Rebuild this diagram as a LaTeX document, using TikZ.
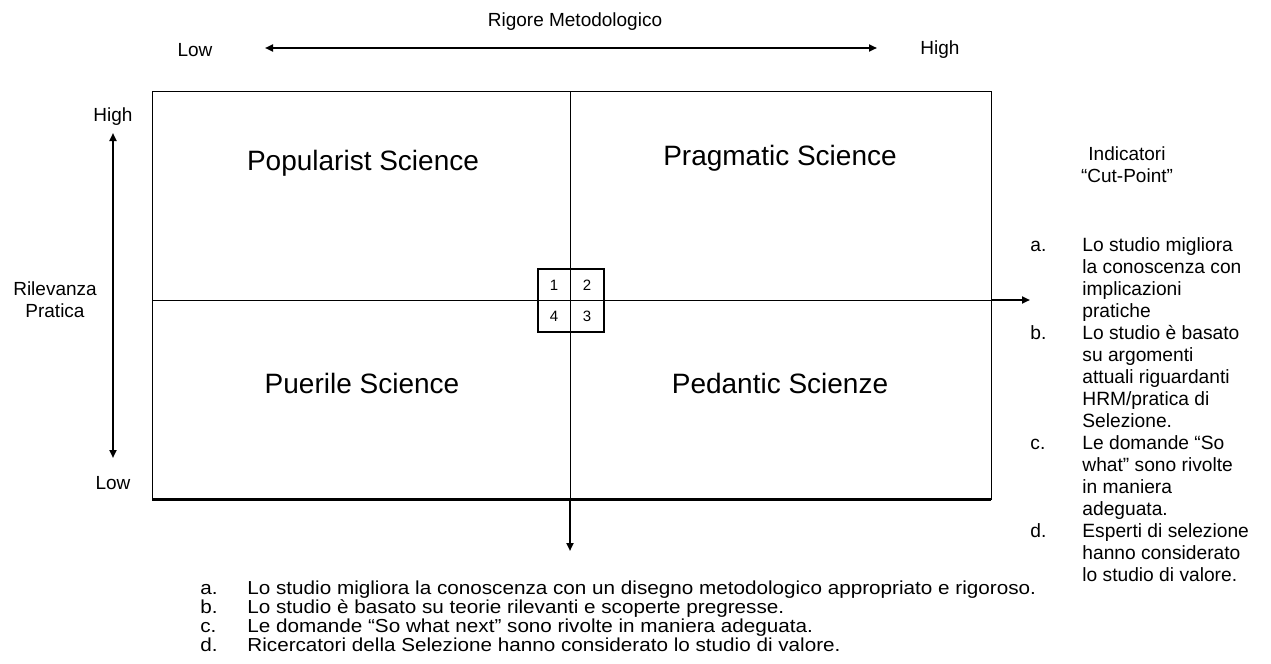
\documentclass[tikz,border=0pt]{standalone}
\usepackage{fontspec}
\setmainfont{Liberation Sans}
\usetikzlibrary{arrows.meta,positioning}

\newcommand{\wide}[1]{\scalebox{1.1}[1]{#1}}

\begin{document}
\begin{tikzpicture}[x=0.5pt,y=-0.5pt,
		every node/.style={inner sep=0pt},
		tip/.style={line width=1pt,-{Triangle[length=4pt,width=3.5pt]}},
		twotip/.style={line width=1pt,{Triangle[length=4pt,width=3.5pt]}-{Triangle[length=4pt,width=3.5pt]}},
		quad/.style={font=\fontsize{14}{16}\selectfont},
		lbl/.style={font=\fontsize{9.5}{11}\selectfont},
		item/.style={anchor=base west,font=\fontsize{9.4}{11}\selectfont},
		cell/.style={font=\fontsize{7.5}{9}\selectfont}]
		\useasboundingbox (0,0) rectangle (1271,664);
		% horizontal axis
		\node[lbl] (title) at (575,22) {Rigore Metodologico};
		\node[lbl] (xlow) at (195,50) {Low};
		\node[lbl] (xhigh) at (940,50) {High};
		\coordinate (xa) at (265,48);
		\coordinate (xb) at (877,48);
		\draw[twotip] (xa) -- (xb);
		% vertical axis
		\node[lbl] (yhigh) at (113,117) {High};
		\node[lbl] (ylow) at (113,483) {Low};
		\node[lbl,align=center] (yname) at (55,300) {Rilevanza\\Pratica};
		\coordinate (ya) at (113,133);
		\coordinate (yb) at (113,458);
		\draw[twotip] (ya) -- (yb);
		% the grid
		\coordinate (nw) at (152,91);
		\coordinate (se) at (991,499);
		\coordinate (sw) at (152,499);
		\coordinate (mt) at (570,91);
		\coordinate (mb) at (570,499);
		\coordinate (ml) at (152,300);
		\coordinate (mr) at (991,300);
		\coordinate (down) at (570,551);
		\coordinate (out) at (1030,300);
		\draw[line width=0.4pt] (nw) rectangle (se);
		\draw[line width=1.5pt] (sw) -- (se);
		\draw[line width=0.4pt] (mt) -- (mb);
		\draw[line width=0.4pt] (ml) -- (mr);
		\draw[tip] (mb) -- (down);
		\draw[tip] (mr) -- (out);
		\node[quad] (popular) at (363,163) {Popularist Science};
		\node[quad] (pragma) at (780,158) {Pragmatic Science};
		\node[quad] (puerile) at (362,383) {Puerile Science};
		\node[quad] (pedant) at (780,383) {Pedantic Scienze};
		% the cells
		\node[draw,line width=1pt,minimum width=33pt,minimum height=31.5pt] (cells) at (571,300.5) {};
		\node[cell] (c1) at (554,285) {1};
		\node[cell] (c2) at (587,285) {2};
		\node[cell] (c3) at (587,316) {3};
		\node[cell] (c4) at (554,316) {4};
		% cut-point list
		\node[lbl,align=center] (ind) at (1127,165) {Indicatori\\“Cut-Point”};
		\node[anchor=north west,font=\fontsize{9.6}{11}\selectfont] (cut) at (1030,236) {%
			\begin{tabular}{@{}l@{\hspace{18pt}}l@{}}
				a. & Lo studio migliora\\
				   & la conoscenza con\\
				   & implicazioni\\
				   & pratiche\\
				b. & Lo studio è basato\\
				   & su argomenti\\
				   & attuali riguardanti\\
				   & HRM/pratica di\\
				   & Selezione.\\
				c. & Le domande “So\\
				   & what” sono rivolte\\
				   & in maniera\\
				   & adeguata.\\
				d. & Esperti di selezione\\
				   & hanno considerato\\
				   & lo studio di valore.
			\end{tabular}};
		% bottom list
		\node[item] (ka) at (200,594) {\wide{a.}};
		\node[item] (ta) at (247,594) {\wide{Lo studio migliora la conoscenza con un disegno metodologico appropriato e rigoroso.}};
		\node[item] (kb) at (200,613) {\wide{b.}};
		\node[item] (tb) at (247,613) {\wide{Lo studio è basato su teorie rilevanti e scoperte pregresse.}};
		\node[item] (kc) at (200,632) {\wide{c.}};
		\node[item] (tc) at (247,632) {\wide{Le domande “So what next” sono rivolte in maniera adeguata.}};
		\node[item] (kd) at (200,651) {\wide{d.}};
		\node[item] (td) at (247,651) {\wide{Ricercatori della Selezione hanno considerato lo studio di valore.}};
\end{tikzpicture}
\end{document}
